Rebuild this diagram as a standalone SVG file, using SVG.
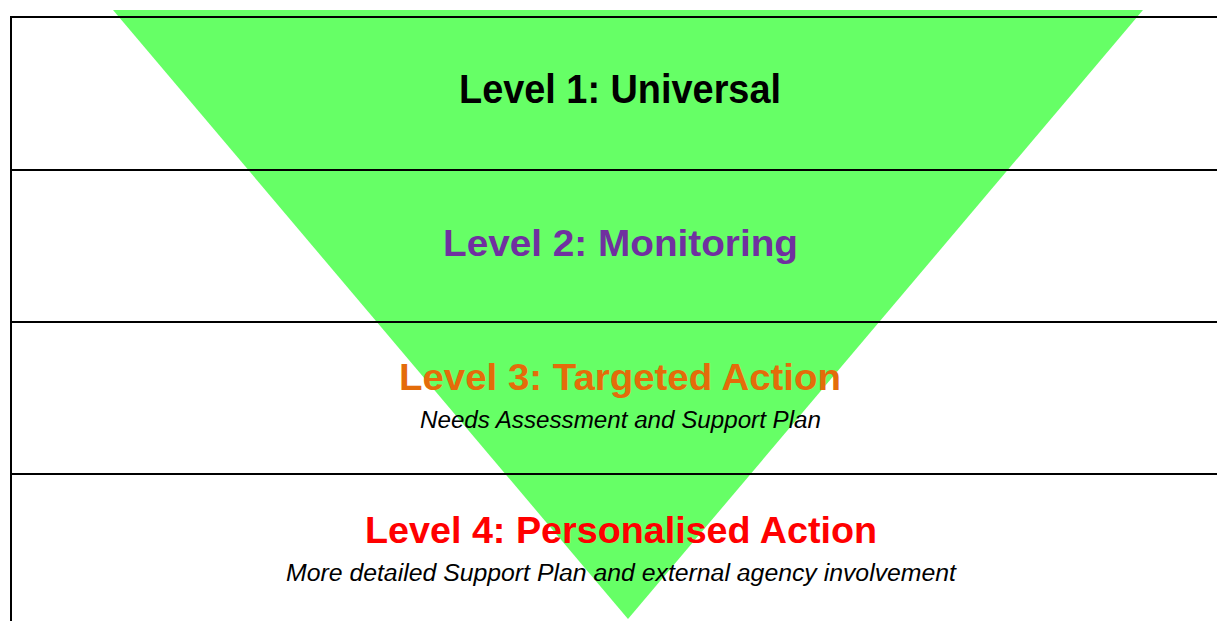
<svg xmlns="http://www.w3.org/2000/svg" width="1217" height="621" viewBox="0 0 1217 621">
<style>
.t{font-family:"Liberation Sans",Arial,sans-serif;font-weight:bold;text-anchor:middle}
.s{font-family:"Liberation Sans",Arial,sans-serif;font-style:italic;font-size:23px;text-anchor:middle;fill:#000}
.ln{stroke:#000;stroke-width:2;fill:none}
</style>
<rect width="1217" height="621" fill="#fff"/>
<g id="triangle">
<polygon points="113,10 1143,10 628,619" fill="#66FF66"/>
</g>
<g id="connectors">
<line class="ln" x1="10" y1="17" x2="1217" y2="17"/>
<line class="ln" x1="11" y1="16" x2="11" y2="621"/>
<line class="ln" x1="10" y1="170" x2="1217" y2="170"/>
<line class="ln" x1="10" y1="322" x2="1217" y2="322"/>
<line class="ln" x1="10" y1="474" x2="1217" y2="474"/>
</g>
<g id="level1">
<text class="t" x="620" y="103" font-size="41" fill="#000" textLength="322" lengthAdjust="spacingAndGlyphs">Level 1: Universal</text>
</g>
<g id="level2">
<text class="t" x="620.5" y="256" font-size="36" fill="#7030A0" textLength="355" lengthAdjust="spacingAndGlyphs">Level 2: Monitoring</text>
</g>
<g id="level3">
<text class="t" x="620" y="390" font-size="36" fill="#E46C0A" textLength="442" lengthAdjust="spacingAndGlyphs">Level 3: Targeted Action</text>
<text class="s" x="620.5" y="428" textLength="401" lengthAdjust="spacingAndGlyphs">Needs Assessment and Support Plan</text>
</g>
<g id="level4">
<text class="t" x="621" y="543" font-size="37" fill="#FF0000" textLength="512" lengthAdjust="spacingAndGlyphs">Level 4: Personalised Action</text>
<text class="s" x="621" y="581" textLength="670" lengthAdjust="spacingAndGlyphs">More detailed Support Plan and external agency involvement</text>
</g>
</svg>
